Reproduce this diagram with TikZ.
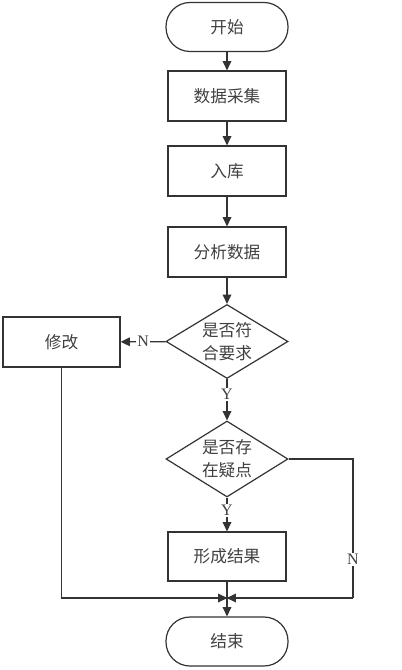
\documentclass[tikz,border=0pt]{standalone}
\usepackage{fontspec}
\setmainfont{Liberation Serif}
\newfontfamily\cjk{Noto Sans CJK SC}
\usetikzlibrary{shapes.geometric,arrows.meta}
\definecolor{ln}{HTML}{333333}
\definecolor{tx}{HTML}{404040}
\begin{document}
\begin{tikzpicture}[x=0.75pt,y=-0.75pt,
  every node/.style={font=\cjk\fontsize{12.5}{17}\selectfont, text=tx},
  box/.style={draw=ln, line width=0.9pt, rectangle, minimum width=118*0.75pt, minimum height=50*0.75pt, inner sep=0pt},
  term/.style={draw=ln, line width=0.9pt, rectangle, rounded corners=18pt, minimum width=122*0.75pt, minimum height=49*0.75pt, inner sep=0pt},
  dec/.style={draw=ln, line width=0.9pt, diamond, minimum width=122*0.75pt, minimum height=74*0.75pt, inner sep=0pt},
  dectext/.style={align=center, inner sep=0pt},
  lbl/.style={font=\fontsize{12}{14}\selectfont, fill=white, inner sep=1pt, text=tx},
  conn/.style={draw=ln, line width=0.9pt, -{Triangle[length=7pt,width=6.5pt]}},
  plain/.style={draw=ln, line width=0.9pt}]
\useasboundingbox (0,0) rectangle (401,670);
\node[term] (start) at (227,27) {开始};
\node[box] (s1) at (227,96) {数据采集};
\node[box] (s2) at (227,171) {入库};
\node[box] (s3) at (227,252) {分析数据};
\node[dec] (d1) at (227,341.5) {};
\node[dectext] (d1t) at (d1.center) {是否符\\合要求};
\node[box, minimum width=117*0.75pt] (fix) at (61.5,342) {修改};
\node[dec, minimum height=76*0.75pt] (d2) at (227,459) {};
\node[dectext] (d2t) at (d2.center) {是否存\\在疑点};
\node[box, minimum height=49*0.75pt] (s4) at (227,556.5) {形成结果};
\node[term] (end) at (227,641.5) {结束};
\coordinate (j) at (227,598);
\coordinate (r) at (353,459);
\path[conn] (start) -- (s1);
\path[conn] (s1) -- (s2);
\path[conn] (s2) -- (s3);
\path[conn] (s3) -- (d1);
\path[conn] (d1) -- node[lbl] {N} (fix);
\path[conn] (d1) -- node[lbl, pos=0.37] {Y} (d2);
\path[conn] (d2) -- node[lbl, pos=0.37] {Y} (s4);
\path[conn] (s4) -- (end);
\path[conn] (fix.south) -- (fix.south |- j) -- ([xshift=0.3pt]j);
\path[plain] (d2.east) -- (r) -- node[lbl, pos=0.72] {N} (r |- j);
\path[conn] (r |- j) -- ([xshift=-0.3pt]j);
\end{tikzpicture}
\end{document}
